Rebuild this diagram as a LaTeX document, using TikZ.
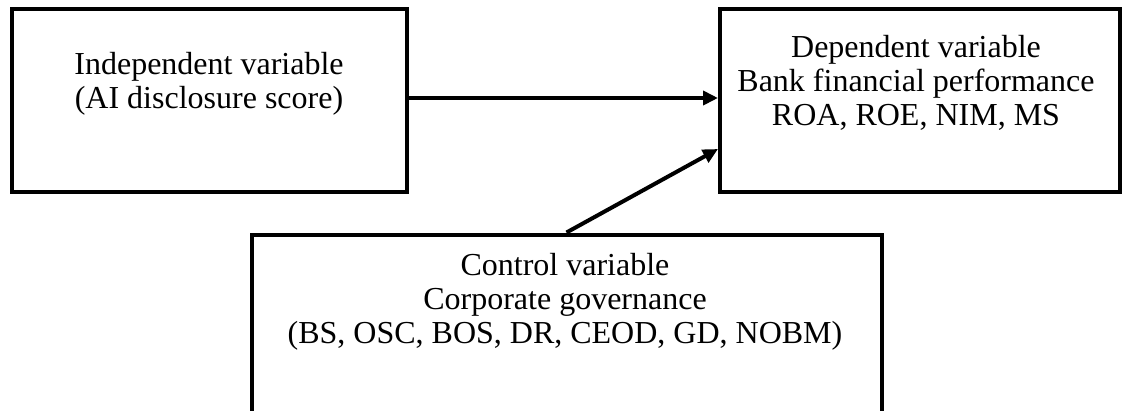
\documentclass[tikz,border=0pt]{standalone}
\usepackage{fontspec}
\setmainfont{Liberation Serif}
\usetikzlibrary{arrows.meta}

\begin{document}
\begin{tikzpicture}[x=1pt,y=-1pt,
  varbox/.style={draw,line width=4pt,minimum width=#1,minimum height=183pt,inner sep=0pt},
  vartext/.style={anchor=north,align=center,inner sep=0pt,font=\fontsize{32}{34}\selectfont},
  link/.style={line width=4pt,-{Triangle[length=15pt,width=14pt]}}]
  \useasboundingbox (0,0) rectangle (1126,410);
  \clip (0,0) rectangle (1126,410);

  \node[varbox=395pt] (indep) at (209,100) {};
  \node[varbox=400pt] (dep) at (920,100) {};
  \node[varbox=630pt,minimum height=240pt] (ctrl) at (566.5,354.5) {};

  \node[vartext] (indeptxt) at (209,52) {Independent variable\\(AI disclosure score)};
  \node[vartext] (deptxt) at (916,35) {Dependent variable\\Bank financial performance\\ROA, ROE, NIM, MS};
  \node[vartext] (ctrltxt) at (565,253) {Control variable\\Corporate governance\\(BS, OSC, BOS, DR, CEOD, GD, NOBM)};

  \draw[link] ([yshift=2pt]indep.east) -- ([yshift=2pt]dep.west);
  \draw[link] (ctrl.north) -- ([yshift=-49pt]dep.west);
\end{tikzpicture}
\end{document}
